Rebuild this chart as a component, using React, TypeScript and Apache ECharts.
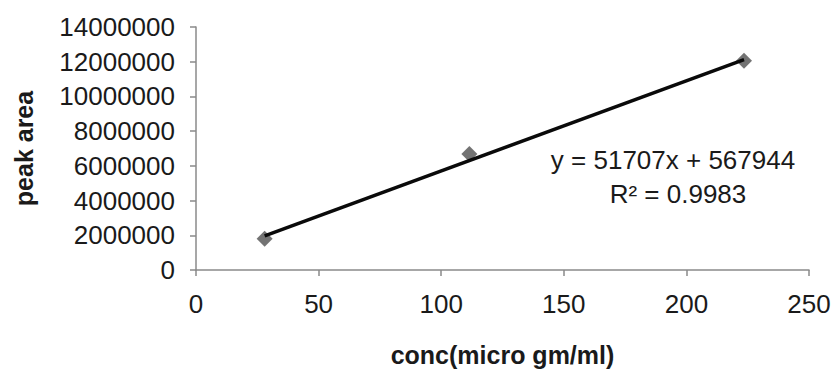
import React, { useEffect, useRef } from "react";
import * as echarts from "echarts";

const concValues = [28, 111.5, 223.5];
const peakAreaValues = [1800000, 6680000, 12060000];
const trendX = [28, 223.5];
const trendY = [1960000, 12120000];
const equationText = "y = 51707x + 567944";
const r2Text = "R\u00B2 = 0.9983";
const xAxisTitle = "conc(micro gm/ml)";
const yAxisTitle = "peak area";

const FONT = "'Liberation Sans', Arial, sans-serif";

export default function App() {
  const ref = useRef<HTMLDivElement>(null);
  useEffect(() => {
    document.body.style.margin = "0";
    if (!ref.current) return;
    const chart = echarts.init(ref.current, null, { renderer: "svg" });
    chart.setOption({
      animation: false,
      backgroundColor: "#ffffff",
      grid: { left: 196, right: 26, top: 27, bottom: 100, containLabel: false },
      xAxis: {
        type: "value",
        min: 0,
        max: 250,
        interval: 50,
        name: xAxisTitle,
        nameLocation: "middle",
        nameGap: 72,
        nameTextStyle: { fontFamily: FONT, fontSize: 25, fontWeight: "bold", color: "#1a1a1a" },
        axisLine: { show: true, lineStyle: { color: "#8a8a8a", width: 1.5 } },
        axisTick: { show: true, length: 6, lineStyle: { color: "#8a8a8a", width: 1.5 } },
        axisLabel: { fontFamily: FONT, fontSize: 26, color: "#1a1a1a", margin: 21 },
        splitLine: { show: false },
      },
      yAxis: {
        type: "value",
        min: 0,
        max: 14000000,
        interval: 2000000,
        name: yAxisTitle,
        nameLocation: "middle",
        nameGap: 160,
        nameRotate: 90,
        nameTextStyle: { fontFamily: FONT, fontSize: 25, fontWeight: "bold", color: "#1a1a1a" },
        axisLine: { show: true, lineStyle: { color: "#8a8a8a", width: 1.5 } },
        axisTick: { show: true, length: 6, lineStyle: { color: "#8a8a8a", width: 1.5 } },
        axisLabel: {
          fontFamily: FONT,
          fontSize: 26,
          color: "#1a1a1a",
          margin: 21,
          formatter: (v: number) => String(v),
        },
        splitLine: { show: false },
      },
      series: [
        {
          type: "scatter",
          data: concValues.map((x, i) => [x, peakAreaValues[i]]),
          symbol: "diamond",
          symbolSize: 16,
          itemStyle: { color: "#505050" },
          z: 2,
        },
        {
          type: "line",
          data: trendX.map((x, i) => [x, trendY[i]]),
          symbol: "none",
          lineStyle: { color: "#0a0a0a", width: 3.5 },
          z: 3,
        },
      ],
      graphic: [
        {
          type: "text",
          x: 673,
          y: 160,
          style: {
            text: equationText,
            font: `26px ${FONT}`,
            fill: "#1a1a1a",
            textAlign: "center",
            textVerticalAlign: "middle",
          },
        },
        {
          type: "text",
          x: 678,
          y: 194,
          style: {
            text: r2Text,
            font: `26px ${FONT}`,
            fill: "#1a1a1a",
            textAlign: "center",
            textVerticalAlign: "middle",
          },
        },
      ],
    });
    return () => chart.dispose();
  }, []);
  return <div ref={ref} style={{ width: 835, height: 372 }} />;
}
